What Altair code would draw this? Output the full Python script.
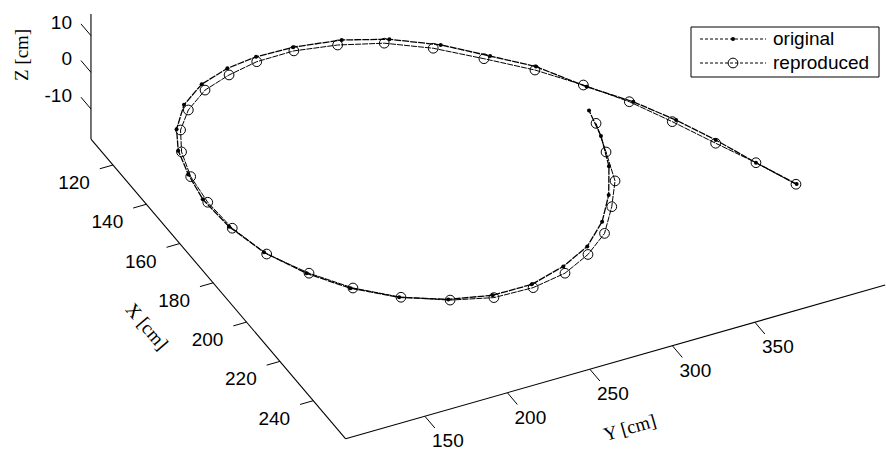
import altair as alt
import numpy as np
import pandas as pd

# ---- trajectory data (cm) ----
orig_x = [235.0, 221.5, 207.5, 194.7, 182.2, 170.6, 156.4, 146.7, 136.4, 128.1,
          122.8, 120.1, 119.7, 121.1, 124.6, 131.0, 140.1, 149.1, 160.0, 171.9,
          186.2, 200.8, 214.4, 225.6, 235.0, 241.6, 245.1, 245.2, 241.5, 236.1,
          227.7, 217.5, 205.8, 192.4, 180.6]
orig_y = [400.0, 389.0, 378.8, 367.7, 354.4, 337.9, 321.5, 303.5, 284.0, 261.3,
          237.8, 211.1, 189.0, 170.2, 151.1, 133.9, 120.2, 112.1, 107.2, 103.9,
          105.4, 111.8, 123.9, 139.1, 159.1, 182.2, 205.6, 229.2, 252.0, 272.0,
          289.5, 303.8, 315.8, 324.5, 329.2]
orig_z = [0.0, 0.0, 0.0, 0.0, 0.0, 0.0, 0.0, 0.0, 0.0, 0.0,
          0.0, 0.0, 0.0, 0.0, 0.0, 0.0, 0.0, 0.0, 0.0, 0.0,
          0.0, 0.0, 0.0, 0.0, 0.0, 0.0, 0.0, 0.0, 0.0, 0.0,
          0.0, 0.0, 0.0, 0.0, 0.0]

rep_x = [235.0, 221.5, 208.8, 194.9, 181.7, 169.5, 157.7, 147.1, 136.9, 129.1,
         124.4, 121.7, 121.8, 124.0, 127.4, 133.6, 140.9, 150.0, 161.2, 173.7,
         187.2, 201.8, 214.6, 225.8, 235.2, 242.1, 246.2, 246.7, 244.5, 239.5,
         232.8, 222.7, 212.5, 199.6, 186.7]
rep_y = [399.6, 389.0, 377.4, 365.2, 352.5, 337.0, 319.6, 299.4, 279.0, 257.2,
         233.7, 209.9, 187.3, 168.3, 150.3, 133.9, 121.8, 113.2, 107.4, 105.1,
         106.3, 112.4, 125.1, 140.4, 160.0, 182.8, 205.2, 228.5, 250.0, 269.0,
         285.8, 300.4, 312.7, 320.3, 327.3]
rep_z = [0.0, 0.0, 0.0, 0.0, 0.0, 0.0, 0.0, 0.0, 0.0, 0.0,
         0.0, 0.0, 0.0, 0.0, 0.0, 0.0, 0.0, 0.0, 0.0, 0.0,
         0.0, 0.0, 0.0, 0.0, 0.0, 0.0, 0.0, 0.0, 0.0, 0.0,
         0.0, 0.0, 0.0, 0.0, 0.0]

# ---- axes ----
x_ticks = [120, 140, 160, 180, 200, 220, 240]
y_ticks = [150, 200, 250, 300, 350]
z_ticks = [-10, 0, 10]
X_LIM = (106.8, 259.4)
Y_LIM = (102.0, 429.0)
Z_LIM = (-18.2, 15.9)

# ---- orthographic view: page position of (120, 150, 0) and unit steps ----
ORIGIN = (192.2, 75.7)
EX = (1.669, 1.964)
EY = (1.65, -0.47)
EZ = (0.0, -3.667)

W, H = 886, 450


def project(x, y, z):
    x = np.asarray(x, float) - 120.0
    y = np.asarray(y, float) - 150.0
    z = np.asarray(z, float)
    px = ORIGIN[0] + x * EX[0] + y * EY[0] + z * EZ[0]
    py = ORIGIN[1] + x * EX[1] + y * EY[1] + z * EZ[1]
    return px, py


def seg_frame(p0, p1):
    a = project(*p0)
    b = project(*p1)
    return pd.DataFrame({"px": np.atleast_1d(a[0]), "py": np.atleast_1d(a[1]),
                         "px2": np.atleast_1d(b[0]), "py2": np.atleast_1d(b[1])})


xs = alt.Scale(domain=[0, W], nice=False, zero=False)
ys = alt.Scale(domain=[0, H], nice=False, zero=False, reverse=True)
X = alt.X("px:Q", scale=xs, axis=None)
Y = alt.Y("py:Q", scale=ys, axis=None)

x0, x1 = X_LIM
y0, y1 = Y_LIM
z0, z1 = Z_LIM

# axis lines
axes_df = pd.concat([
    seg_frame((x0, y0, z0), (x0, y0, z1)),   # Z axis
    seg_frame((x0, y0, z0), (x1, y0, z0)),   # X axis
    seg_frame((x1, y0, z0), (x1, y1, z0)),   # Y axis
], ignore_index=True)

# tick marks
nx, ny, nz = len(x_ticks), len(y_ticks), len(z_ticks)
ticks_df = pd.concat([
    seg_frame((x_ticks, [y0] * nx, [z0] * nx), (x_ticks, [y0 - 8] * nx, [z0] * nx)),
    seg_frame(([x1] * ny, y_ticks, [z0] * ny), ([x1 + 6] * ny, y_ticks, [z0] * ny)),
    seg_frame(([x0] * nz, [y0] * nz, z_ticks), ([x0 - 6] * nz, [y0] * nz, z_ticks)),
], ignore_index=True)

axis_line = alt.Chart(axes_df).mark_rule(color="black", strokeWidth=1.1).encode(
    x=X, y=Y, x2="px2:Q", y2="py2:Q")
tick_line = alt.Chart(ticks_df).mark_rule(color="black", strokeWidth=1).encode(
    x=X, y=Y, x2="px2:Q", y2="py2:Q")


def label_frame(pts, labels):
    px, py = project(*pts)
    return pd.DataFrame({"px": px, "py": py, "t": [str(v) for v in labels]})


tick_font = dict(font="Liberation Sans", fontSize=19, color="black", baseline="middle")
xl = alt.Chart(label_frame((x_ticks, [y0] * nx, [z0] * nx), x_ticks)).mark_text(
    align="center", dx=-39, dy=18, **tick_font).encode(x=X, y=Y, text="t:N")
yl = alt.Chart(label_frame(([x1] * ny, y_ticks, [z0] * ny), y_ticks)).mark_text(
    align="center", dx=23, dy=25, **tick_font).encode(x=X, y=Y, text="t:N")
zl = alt.Chart(label_frame(([x0] * nz, [y0] * nz, z_ticks), z_ticks)).mark_text(
    align="right", dx=-19, dy=-13, **tick_font).encode(x=X, y=Y, text="t:N")

# axis titles, anchored at points offset in data space from each axis
ang_x = float(np.degrees(np.arctan2(EX[1], EX[0])))
ang_y = float(np.degrees(np.arctan2(EY[1], EY[0]))) % 360
title_font = dict(font="Liberation Serif", fontSize=19, color="black",
                  align="center", baseline="middle")
xt = alt.Chart(label_frame(([190.2], [y0 - 50.6], [z0]), ["X [cm]"])).mark_text(
    angle=ang_x, **title_font).encode(x=X, y=Y, text="t:N")
yt = alt.Chart(label_frame(([x1 + 28.7], [245.2], [z0]), ["Y [cm]"])).mark_text(
    angle=ang_y, **title_font).encode(x=X, y=Y, text="t:N")
zt = alt.Chart(label_frame(([x0], [y0 - 41.8], [10.1]), ["Z [cm]"])).mark_text(
    angle=270, **title_font).encode(x=X, y=Y, text="t:N")

# trajectories
ox, oy = project(orig_x, orig_y, orig_z)
rx, ry = project(rep_x, rep_y, rep_z)
orig_df = pd.DataFrame({"px": ox, "py": oy, "i": range(len(ox))})
rep_df = pd.DataFrame({"px": rx, "py": ry, "i": range(len(rx))})

rep_line = alt.Chart(rep_df).mark_line(color="black", strokeWidth=1.0,
                                       strokeDash=[6, 1]).encode(x=X, y=Y, order="i:Q")
orig_line = alt.Chart(orig_df).mark_line(color="black", strokeWidth=1.3,
                                         strokeDash=[7, 1]).encode(x=X, y=Y, order="i:Q")
rep_pts = alt.Chart(rep_df).mark_point(shape="circle", filled=False, color="black",
                                       size=95, strokeWidth=1, opacity=1).encode(x=X, y=Y)
orig_pts = alt.Chart(orig_df).mark_point(shape="circle", filled=True, color="black",
                                         size=16, opacity=1).encode(x=X, y=Y)

# legend box
leg_box = alt.Chart(pd.DataFrame({"a": [0]})).mark_rect(
    fill="white", stroke="black", strokeWidth=1).encode(
    x=alt.value(691), x2=alt.value(879), y=alt.value(27), y2=alt.value(77))
leg_y = [39, 63]
leg_layers = []
for r, label in enumerate(["original", "reproduced"]):
    base = alt.Chart(pd.DataFrame({"t": [label]}))
    leg_layers.append(base.mark_rule(color="black", strokeWidth=1, strokeDash=[3, 2]).encode(
        x=alt.value(700), x2=alt.value(766), y=alt.value(leg_y[r])))
    if r == 0:
        leg_layers.append(base.mark_point(shape="circle", filled=True, color="black",
                                          size=16, opacity=1).encode(
            x=alt.value(733), y=alt.value(leg_y[r])))
    else:
        leg_layers.append(base.mark_point(shape="circle", filled=False, color="black",
                                          size=95, strokeWidth=1, opacity=1).encode(
            x=alt.value(733), y=alt.value(leg_y[r])))
    leg_layers.append(base.mark_text(font="Liberation Sans", fontSize=19, color="black",
                                     align="left", baseline="middle").encode(
        x=alt.value(773), y=alt.value(leg_y[r]), text="t:N"))

chart = alt.layer(
    axis_line, tick_line, xl, yl, zl, xt, yt, zt,
    rep_line, orig_line, rep_pts, orig_pts,
    leg_box, *leg_layers,
).properties(
    width=W, height=H, padding=0, autosize=alt.AutoSizeParams(type="none"),
    background="white",
).configure_view(stroke=None)

chart.save("out.html", embed_options={"renderer": "svg", "actions": False})
